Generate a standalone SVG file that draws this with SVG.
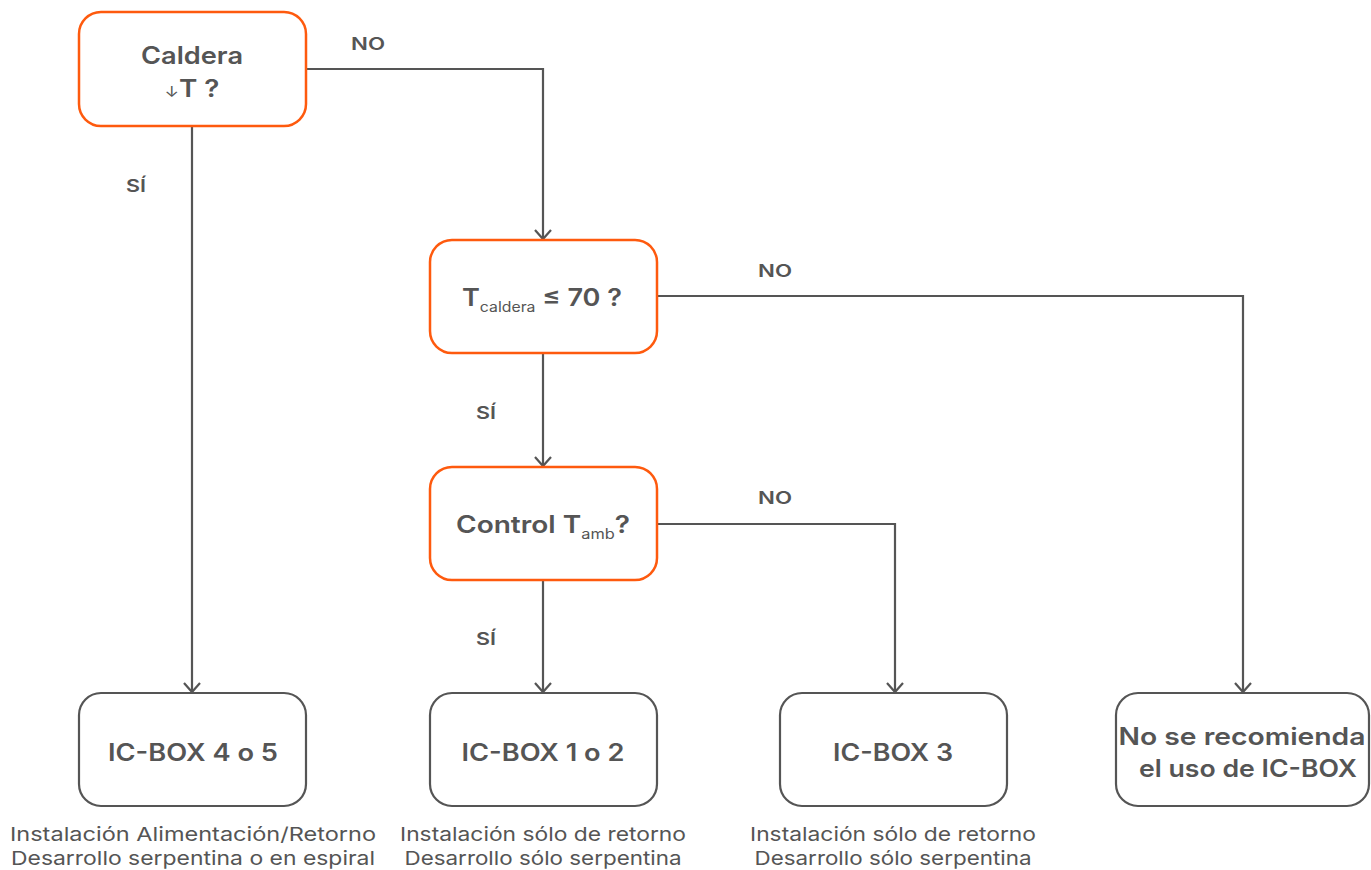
<svg xmlns="http://www.w3.org/2000/svg" width="1371" height="870" viewBox="0 0 1371 870">
<defs>
<style>
.dec{fill:#fff;stroke:#fe5a0e;stroke-width:2.5}
.res{fill:#fff;stroke:#555;stroke-width:2.2}
.t{font-family:Inter,"Liberation Sans",sans-serif;font-weight:600;fill:#555;font-size:24px;text-anchor:middle}
.lab{font-family:Inter,"Liberation Sans",sans-serif;font-weight:600;fill:#555;font-size:17px;text-anchor:middle}
.cap{font-family:Inter,"Liberation Sans",sans-serif;font-weight:400;fill:#555;font-size:19px;text-anchor:middle}
.ln{fill:none;stroke:#555;stroke-width:2.2}
.ah{fill:none;stroke:#555;stroke-width:2.2}
</style>
</defs>
<rect width="1371" height="870" fill="#fff"/>
<g id="connectors">
<path class="ln" d="M306,69 H543 V240"/>
<path class="ln" d="M192,126 V693"/>
<path class="ln" d="M657,296 H1243 V693"/>
<path class="ln" d="M543,353 V467"/>
<path class="ln" d="M657,524 H895 V693"/>
<path class="ln" d="M543,580 V693"/>
<path class="ah" d="M184,683 L192,692 L200,683 M535,230 L543,239 L551,230 M1235,683 L1243,692 L1251,683 M535,457 L543,466 L551,457 M887,683 L895,692 L903,683 M535,683 L543,692 L551,683"/>
<text class="lab" x="368" y="50" textLength="34" lengthAdjust="spacingAndGlyphs">NO</text>
<text class="lab" x="136" y="192" textLength="20" lengthAdjust="spacingAndGlyphs">SÍ</text>
<text class="lab" x="775" y="277" textLength="34" lengthAdjust="spacingAndGlyphs">NO</text>
<text class="lab" x="486" y="419" textLength="20" lengthAdjust="spacingAndGlyphs">SÍ</text>
<text class="lab" x="775" y="504" textLength="34" lengthAdjust="spacingAndGlyphs">NO</text>
<text class="lab" x="486" y="645" textLength="20" lengthAdjust="spacingAndGlyphs">SÍ</text>
</g>
<g id="n-caldera">
<rect class="dec" x="79" y="12" width="227" height="114" rx="22"/>
<text class="t" x="192" y="64" textLength="102" lengthAdjust="spacingAndGlyphs">Caldera</text>
<text class="t" x="192" y="97" textLength="55" lengthAdjust="spacingAndGlyphs"><tspan font-size="15" font-weight="400">↓</tspan>T ?</text>
</g>
<g id="n-tcaldera">
<rect class="dec" x="430" y="240" width="227" height="113" rx="22"/>
<text class="t" x="542" y="306" textLength="160" lengthAdjust="spacingAndGlyphs">T<tspan font-size="14" dy="6" font-weight="400">caldera</tspan><tspan dy="-6"> ≤ 70 ?</tspan></text>
</g>
<g id="n-control">
<rect class="dec" x="430" y="467" width="227" height="113" rx="22"/>
<text class="t" x="543" y="533" textLength="174" lengthAdjust="spacingAndGlyphs">Control T<tspan font-size="14" dy="6" font-weight="400">amb</tspan><tspan dy="-6">?</tspan></text>
</g>
<g id="n-icbox45">
<rect class="res" x="79" y="693" width="227" height="113" rx="22"/>
<text class="t" x="193" y="761" textLength="170" lengthAdjust="spacingAndGlyphs">IC-BOX 4 o 5</text>
<text class="cap" x="193" y="841" textLength="366" lengthAdjust="spacingAndGlyphs">Instalación Alimentación/Retorno</text>
<text class="cap" x="193" y="865" textLength="364" lengthAdjust="spacingAndGlyphs">Desarrollo serpentina o en espiral</text>
</g>
<g id="n-icbox12">
<rect class="res" x="430" y="693" width="227" height="113" rx="22"/>
<text class="t" x="543" y="761" textLength="163" lengthAdjust="spacingAndGlyphs">IC-BOX 1 o 2</text>
<text class="cap" x="543" y="841" textLength="286" lengthAdjust="spacingAndGlyphs">Instalación sólo de retorno</text>
<text class="cap" x="543" y="865" textLength="277" lengthAdjust="spacingAndGlyphs">Desarrollo sólo serpentina</text>
</g>
<g id="n-icbox3">
<rect class="res" x="780" y="693" width="227" height="113" rx="22"/>
<text class="t" x="893" y="761" textLength="120" lengthAdjust="spacingAndGlyphs">IC-BOX 3</text>
<text class="cap" x="893" y="841" textLength="286" lengthAdjust="spacingAndGlyphs">Instalación sólo de retorno</text>
<text class="cap" x="893" y="865" textLength="277" lengthAdjust="spacingAndGlyphs">Desarrollo sólo serpentina</text>
</g>
<g id="n-norec">
<rect class="res" x="1116" y="693" width="253" height="113" rx="22"/>
<text class="t" x="1242" y="745" textLength="247" lengthAdjust="spacingAndGlyphs">No se recomienda</text>
<text class="t" x="1248" y="777" textLength="218" lengthAdjust="spacingAndGlyphs">el uso de IC-BOX</text>
</g>
</svg>
